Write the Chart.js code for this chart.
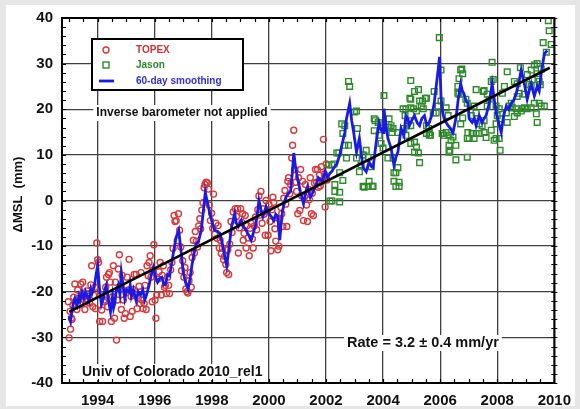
<!DOCTYPE html>
<html>
<head>
<meta charset="utf-8">
<script src="https://cdn.jsdelivr.net/npm/chart.js@4.4.1/dist/chart.umd.min.js"></script>
<style>
  html, body { margin: 0; padding: 0; background: #e6e6e6; }
  #wrap { width: 580px; height: 409px; }
</style>
</head>
<body>
<div id="wrap"><canvas id="slChart" width="580" height="409"></canvas></div>
<script>
/* Global mean sea level — TOPEX / Jason */

const xTickYears = [1994, 1996, 1998, 2000, 2002, 2004, 2006, 2008, 2010];

// [decimal year, mm]
const topexPoints = [
  [1992.97,-22.2],[1993.00,-30.1],[1993.03,-24.3],[1993.05,-28.2],[1993.08,-25.8],[1993.10,-26.1],[1993.13,-23.0],[1993.16,-21.2],
  [1993.20,-18.3],[1993.24,-22.0],[1993.27,-23.9],[1993.30,-19.6],[1993.34,-21.4],[1993.38,-22.8],[1993.41,-18.3],[1993.45,-20.5],
  [1993.48,-17.9],[1993.52,-21.0],[1993.55,-23.9],[1993.59,-22.2],[1993.62,-19.8],[1993.65,-21.6],[1993.69,-20.4],[1993.72,-22.5],
  [1993.76,-18.5],[1993.79,-14.3],[1993.83,-23.3],[1993.86,-20.8],[1993.90,-19.0],[1993.93,-23.7],[1993.97,-9.3],[1994.00,-13.0],
  [1994.03,-13.6],[1994.07,-26.5],[1994.10,-20.6],[1994.14,-24.0],[1994.17,-26.5],[1994.21,-22.2],[1994.24,-21.8],[1994.28,-19.0],
  [1994.31,-16.8],[1994.35,-23.3],[1994.38,-16.2],[1994.41,-15.8],[1994.44,-17.9],[1994.48,-26.5],[1994.52,-21.1],[1994.55,-14.3],
  [1994.59,-25.8],[1994.62,-17.9],[1994.66,-30.6],[1994.69,-21.8],[1994.72,-15.0],[1994.76,-11.9],[1994.79,-19.5],[1994.83,-23.9],
  [1994.86,-16.4],[1994.90,-21.8],[1994.93,-25.8],[1994.97,-24.8],[1995.00,-20.2],[1995.03,-16.8],[1995.07,-19.6],[1995.10,-12.9],
  [1995.14,-25.4],[1995.17,-21.0],[1995.21,-24.3],[1995.24,-19.5],[1995.28,-16.2],[1995.31,-20.6],[1995.35,-16.2],[1995.38,-23.7],
  [1995.42,-21.5],[1995.45,-18.8],[1995.49,-22.6],[1995.52,-15.8],[1995.55,-21.8],[1995.59,-23.7],[1995.63,-22.6],[1995.66,-18.6],
  [1995.70,-23.9],[1995.73,-14.3],[1995.77,-16.5],[1995.80,-13.6],[1995.84,-12.1],[1995.87,-16.8],[1995.91,-22.2],[1995.94,-15.2],
  [1995.97,-9.7],[1996.01,-21.8],[1996.04,-25.8],[1996.07,-20.7],[1996.12,-17.2],[1996.15,-15.6],[1996.19,-13.6],[1996.23,-20.7],
  [1996.26,-16.4],[1996.30,-14.3],[1996.34,-19.0],[1996.37,-18.6],[1996.41,-20.4],[1996.45,-16.8],[1996.49,-18.6],[1996.52,-20.4],
  [1996.56,-15.2],[1996.60,-13.6],[1996.64,-10.5],[1996.68,-3.3],[1996.71,-4.6],[1996.75,-4.4],[1996.79,-8.8],[1996.83,-2.9],
  [1996.87,-6.5],[1996.91,-10.2],[1996.94,-15.4],[1996.98,-13.2],[1997.02,-16.8],[1997.06,-14.7],[1997.09,-19.4],[1997.13,-20.0],
  [1997.16,-20.3],[1997.20,-17.6],[1997.24,-15.8],[1997.28,-19.0],[1997.31,-12.5],[1997.35,-8.7],[1997.39,-11.5],[1997.42,-6.8],
  [1997.46,-8.9],[1997.50,-10.2],[1997.54,-5.6],[1997.58,-4.0],[1997.61,-6.2],[1997.65,-2.1],[1997.69,-0.5],[1997.73,2.8],
  [1997.76,3.5],[1997.80,4.0],[1997.84,3.9],[1997.88,2.5],[1997.91,-1.0],[1997.95,-4.4],[1997.99,-2.8],[1998.03,-6.1],
  [1998.06,1.4],[1998.10,-7.4],[1998.14,-5.0],[1998.18,-8.3],[1998.22,-5.5],[1998.26,-10.4],[1998.29,-8.7],[1998.33,-11.6],
  [1998.37,-10.4],[1998.41,-13.0],[1998.45,-12.2],[1998.49,-14.0],[1998.52,-15.8],[1998.56,-10.8],[1998.59,-16.2],[1998.63,-9.6],
  [1998.67,-4.6],[1998.71,-7.0],[1998.75,-2.5],[1998.78,-5.5],[1998.82,-1.8],[1998.86,-3.5],[1998.90,-1.8],[1998.93,-11.5],
  [1998.97,-6.0],[1999.01,-1.8],[1999.05,-4.8],[1999.08,-2.9],[1999.10,-8.7],[1999.13,-7.2],[1999.17,-3.3],[1999.20,-10.4],
  [1999.24,-5.5],[1999.27,-8.2],[1999.31,-12.1],[1999.34,-6.1],[1999.38,-5.0],[1999.42,-8.4],[1999.45,-10.4],[1999.49,-5.6],
  [1999.53,-3.6],[1999.57,-6.4],[1999.61,-2.0],[1999.65,1.0],[1999.69,-3.2],[1999.72,2.0],[1999.76,-5.0],[1999.79,-1.8],
  [1999.83,-3.0],[1999.87,-7.6],[1999.90,0.0],[1999.94,-2.5],[1999.97,-7.6],[2000.00,-0.8],[2000.04,-4.6],[2000.07,-11.0],
  [2000.11,-2.0],[2000.14,0.7],[2000.17,-0.4],[2000.21,-6.2],[2000.24,-8.9],[2000.28,-3.8],[2000.31,-10.8],[2000.35,-10.0],
  [2000.38,-4.0],[2000.42,-1.5],[2000.45,-2.9],[2000.49,-5.7],[2000.52,0.5],[2000.56,2.2],[2000.59,-0.8],[2000.63,-5.7],
  [2000.66,4.2],[2000.69,5.0],[2000.73,1.5],[2000.76,3.5],[2000.80,9.3],[2000.83,12.1],[2000.87,15.4],[2000.90,6.8],
  [2000.94,4.0],[2000.97,2.0],[2001.01,-2.9],[2001.04,5.0],[2001.08,-2.2],[2001.11,6.8],[2001.15,1.0],[2001.18,4.2],
  [2001.21,-4.4],[2001.25,0.8],[2001.28,3.5],[2001.32,-1.0],[2001.35,-4.6],[2001.39,2.4],[2001.42,0.2],[2001.45,5.0],
  [2001.49,-2.9],[2001.52,1.6],[2001.56,-3.3],[2001.60,3.8],[2001.63,6.8],[2001.67,4.0],[2001.70,6.8],[2001.73,2.9],
  [2001.77,5.6],[2001.80,3.2],[2001.84,7.4],[2001.87,4.2],[2001.91,13.4],[2001.94,5.8],[2001.97,-1.4],[2002.01,8.0],
  [2002.04,4.5]
];

const jasonPoints = [
  [2002.10,7.8],[2002.14,-0.1],[2002.21,7.8],[2002.21,-0.1],[2002.28,8.0],[2002.31,3.5],[2002.31,2.0],[2002.38,10.4],
  [2002.45,10.4],[2002.48,6.1],[2002.48,1.8],[2002.48,-0.3],[2002.55,16.8],[2002.59,14.7],[2002.59,4.4],[2002.66,16.4],
  [2002.66,12.1],[2002.72,9.3],[2002.79,26.1],[2002.83,25.0],[2002.79,12.1],[2003.00,19.4],[2003.07,19.6],[2003.07,9.3],
  [2003.10,15.8],[2003.17,6.3],[2003.23,7.8],[2003.30,10.0],[2003.30,3.1],[2003.34,2.9],[2003.41,11.0],[2003.48,9.5],
  [2003.48,3.1],[2003.51,4.2],[2003.58,7.4],[2003.62,3.1],[2003.65,3.1],[2003.69,17.9],[2003.69,15.3],[2003.72,17.5],
  [2003.83,17.1],[2003.86,14.3],[2003.93,12.5],[2004.00,11.5],[2004.03,23.0],[2004.17,9.3],[2004.21,17.9],[2004.21,16.0],
  [2004.28,16.4],[2004.31,14.9],[2004.35,15.8],[2004.35,9.3],[2004.38,6.1],[2004.38,4.2],[2004.45,6.1],[2004.45,3.1],
  [2004.52,14.9],[2004.52,7.2],[2004.56,4.0],[2004.56,3.1],[2004.70,20.1],[2004.73,15.8],[2004.77,18.6],[2004.80,20.1],
  [2004.80,14.3],[2004.90,17.5],[2004.94,22.4],[2004.97,26.3],[2004.97,22.2],[2004.97,20.3],[2004.97,16.4],[2004.97,12.5],
  [2005.07,20.1],[2005.10,23.9],[2005.10,12.8],[2005.10,10.6],[2005.17,19.6],[2005.17,11.7],[2005.24,24.3],[2005.24,10.4],
  [2005.28,21.8],[2005.28,8.3],[2005.34,20.7],[2005.38,21.8],[2005.41,20.1],[2005.48,22.4],[2005.52,22.4],[2005.52,16.4],
  [2005.52,14.7],[2005.59,15.8],[2005.62,14.9],[2005.62,14.3],[2005.66,14.3],[2005.76,19.2],[2005.79,23.9],[2005.86,19.2],
  [2005.93,20.7],[2005.97,35.7],[2006.03,21.8],[2006.03,28.6],[2006.07,14.7],[2006.14,14.3],[2006.21,20.3],[2006.21,14.9],
  [2006.28,18.6],[2006.31,14.3],[2006.31,12.1],[2006.34,11.0],[2006.38,13.2],[2006.31,10.6],[2006.45,13.9],[2006.55,8.9],
  [2006.55,12.1],[2006.62,25.0],[2006.62,23.5],[2006.66,26.7],[2006.66,23.3],[2006.72,28.6],[2006.76,28.8],[2006.79,27.8],
  [2006.72,16.8],[2006.79,18.1],[2006.90,22.2],[2006.97,14.9],[2006.95,21.3],[2006.95,9.5],[2006.95,13.6],[2007.02,13.6],
  [2007.09,18.6],[2007.12,14.7],[2007.19,20.7],[2007.19,13.6],[2007.26,24.3],[2007.26,19.2],[2007.26,14.7],[2007.37,14.7],
  [2007.37,16.8],[2007.47,16.4],[2007.51,23.9],[2007.54,24.1],[2007.54,17.5],[2007.54,14.9],[2007.61,13.8],[2007.65,23.3],
  [2007.65,20.7],[2007.72,22.2],[2007.79,26.1],[2007.79,15.4],[2007.82,30.3],[2007.86,26.5],[2007.89,13.2],[2007.96,20.7],
  [2007.96,16.8],[2007.96,13.6],[2008.00,18.6],[2008.07,20.1],[2008.07,13.6],[2008.10,11.0],[2008.14,17.9],[2008.18,23.5],
  [2008.25,25.0],[2008.32,19.2],[2008.35,28.2],[2008.35,17.1],[2008.42,20.7],[2008.49,21.3],[2008.53,20.3],[2008.60,26.1],
  [2008.60,18.4],[2008.67,20.1],[2008.70,25.6],[2008.70,22.8],[2008.70,19.2],[2008.77,23.5],[2008.81,29.1],[2008.84,19.6],
  [2008.88,20.1],[2008.95,23.3],[2008.95,20.3],[2009.05,27.6],[2009.05,20.1],[2009.12,25.4],[2009.19,28.6],[2009.19,25.0],
  [2009.19,20.3],[2009.23,26.5],[2009.30,29.7],[2009.30,21.3],[2009.37,19.0],[2009.40,30.0],[2009.40,27.8],[2009.40,17.1],
  [2009.47,26.1],[2009.47,21.3],[2009.51,25.4],[2009.54,28.8],[2009.54,20.7],[2009.61,34.6],[2009.65,20.7],[2009.72,32.5],
  [2009.79,39.4],[2009.82,37.2],[2009.89,34.2]
];

const smoothPoints = [
  [1993.00,-25.4],[1993.05,-26.5],[1993.10,-24.0],[1993.15,-22.5],[1993.20,-21.5],[1993.28,-23.0],[1993.34,-21.0],[1993.38,-22.0],
  [1993.45,-20.0],[1993.52,-21.5],[1993.58,-20.0],[1993.62,-20.7],[1993.70,-22.0],[1993.76,-19.5],[1993.80,-20.4],[1993.88,-19.0],
  [1993.95,-16.0],[1994.00,-14.3],[1994.06,-19.0],[1994.13,-22.8],[1994.20,-21.5],[1994.25,-19.5],[1994.30,-18.6],[1994.38,-22.0],
  [1994.45,-24.4],[1994.52,-21.0],[1994.56,-23.5],[1994.60,-22.5],[1994.66,-19.3],[1994.72,-18.5],[1994.78,-20.5],[1994.83,-15.8],
  [1994.90,-19.0],[1994.95,-21.5],[1995.02,-19.5],[1995.10,-20.0],[1995.14,-18.6],[1995.18,-21.0],[1995.25,-19.5],[1995.30,-20.8],
  [1995.35,-22.0],[1995.42,-20.0],[1995.50,-20.7],[1995.58,-19.5],[1995.65,-21.8],[1995.72,-20.5],[1995.80,-18.6],[1995.87,-16.5],
  [1995.95,-14.7],[1996.02,-16.5],[1996.10,-17.9],[1996.18,-17.0],[1996.25,-16.8],[1996.32,-18.5],[1996.38,-18.3],[1996.45,-16.2],
  [1996.52,-16.5],[1996.60,-13.5],[1996.67,-10.8],[1996.75,-8.0],[1996.84,-6.5],[1996.92,-11.0],[1997.00,-15.8],[1997.08,-18.0],
  [1997.17,-19.4],[1997.24,-17.0],[1997.30,-14.3],[1997.38,-11.5],[1997.45,-9.5],[1997.53,-9.0],[1997.63,-6.5],[1997.70,-2.5],
  [1997.77,1.8],[1997.85,-0.5],[1997.93,-2.9],[1998.02,-5.0],[1998.10,-6.5],[1998.20,-6.8],[1998.28,-7.2],[1998.37,-9.5],
  [1998.45,-12.1],[1998.52,-14.3],[1998.57,-12.0],[1998.62,-9.3],[1998.70,-5.5],[1998.80,-2.9],[1998.86,-5.0],[1998.93,-5.7],
  [1999.03,-4.4],[1999.10,-5.7],[1999.20,-6.5],[1999.28,-7.5],[1999.38,-8.7],[1999.46,-7.0],[1999.55,-5.0],[1999.65,0.0],
  [1999.72,-2.0],[1999.79,-3.5],[1999.90,-1.4],[2000.00,-2.9],[2000.08,-3.5],[2000.17,-4.4],[2000.24,-3.0],[2000.31,-3.5],
  [2000.38,-8.7],[2000.43,-5.0],[2000.48,-2.2],[2000.59,0.7],[2000.68,1.5],[2000.76,2.0],[2000.82,6.0],[2000.87,10.4],
  [2000.94,7.0],[2001.00,5.0],[2001.10,2.0],[2001.21,-0.7],[2001.28,1.5],[2001.35,2.9],[2001.45,0.7],[2001.56,2.0],
  [2001.65,3.5],[2001.73,5.0],[2001.80,4.5],[2001.87,4.2],[2001.97,6.4],[2002.05,5.0],[2002.14,6.0],[2002.21,6.4],
  [2002.28,7.2],[2002.38,8.0],[2002.48,10.0],[2002.57,12.5],[2002.66,14.9],[2002.72,18.0],[2002.79,20.1],[2002.83,21.3],
  [2002.90,17.5],[2002.97,14.9],[2003.07,10.6],[2003.17,13.6],[2003.24,10.0],[2003.30,7.2],[2003.41,6.3],[2003.51,8.5],
  [2003.58,7.5],[2003.65,7.2],[2003.76,12.8],[2003.86,17.1],[2003.93,15.5],[2004.00,14.9],[2004.03,20.1],[2004.10,16.5],
  [2004.17,13.6],[2004.28,11.5],[2004.38,7.8],[2004.45,9.5],[2004.52,10.6],[2004.63,15.8],[2004.73,14.3],[2004.80,18.6],
  [2004.87,17.9],[2004.92,16.4],[2005.00,17.5],[2005.10,18.6],[2005.20,17.0],[2005.28,16.4],[2005.36,18.0],[2005.45,18.6],
  [2005.53,16.5],[2005.62,17.1],[2005.72,19.0],[2005.79,21.3],[2005.88,26.0],[2005.93,28.6],[2005.98,31.5],[2006.03,22.8],
  [2006.08,19.5],[2006.14,17.9],[2006.22,17.0],[2006.28,16.4],[2006.36,15.8],[2006.45,14.9],[2006.55,17.9],[2006.64,22.5],
  [2006.72,25.6],[2006.78,24.0],[2006.83,23.5],[2006.90,22.0],[2006.97,21.3],[2007.02,17.9],[2007.12,17.1],[2007.20,18.0],
  [2007.26,16.4],[2007.37,18.6],[2007.47,17.1],[2007.54,18.0],[2007.61,18.6],[2007.72,21.3],[2007.82,25.6],[2007.90,22.0],
  [2007.96,19.2],[2008.05,17.0],[2008.14,14.9],[2008.22,18.5],[2008.32,20.7],[2008.40,20.0],[2008.49,21.3],[2008.58,22.0],
  [2008.67,23.5],[2008.76,26.0],[2008.84,28.6],[2008.95,25.6],[2009.05,22.2],[2009.12,24.0],[2009.19,25.6],[2009.30,22.9],
  [2009.40,25.0],[2009.47,24.0],[2009.54,27.8],[2009.65,32.1],[2009.75,32.9]
];

// linear fit, 3.2 mm/yr
const trendPoints = [[1993.00,-24.4],[2009.84,29.1]];

const FONT = "'Liberation Sans', Arial, Helvetica, sans-serif";
const toXY = pts => pts.map(p => ({ x: p[0], y: p[1] }));

function textBox(c, txt, x, y, font, align) {
  c.font = font;
  const w = c.measureText(txt).width;
  const left = align === 'center' ? x - w / 2 : x;
  c.fillStyle = '#fff';
  c.fillRect(left - 3, y - 8, w + 6, 16);
  c.fillStyle = '#111';
  c.textBaseline = 'middle';
  c.textAlign = 'left';
  c.fillText(txt, left, y);
}

const decorPlugin = {
  id: 'decor',
  beforeDraw(chart) {
    const c = chart.ctx;
    c.save();
    c.fillStyle = '#e6e6e6';
    c.fillRect(0, 0, chart.width, chart.height);
    c.fillStyle = '#fff';
    c.fillRect(6, 5, 569, 401);
    c.restore();
  },
  beforeDatasetsDraw(chart) {
    const c = chart.ctx;
    const a = chart.chartArea;
    c.save();
    // legend box
    const lx = a.left + 30, ly = a.top + 21, lw = 151, lh = 51;
    c.fillStyle = '#fff';
    c.fillRect(lx, ly, lw, lh);
    c.strokeStyle = '#000';
    c.lineWidth = 2;
    c.strokeRect(lx, ly, lw, lh);
    c.lineWidth = 1.4;
    c.strokeStyle = '#d63a3a';
    c.beginPath(); c.arc(lx + 14, ly + 11, 3, 0, Math.PI * 2); c.stroke();
    c.strokeStyle = '#2f8a2a';
    c.strokeRect(lx + 11, ly + 23, 6, 6);
    c.strokeStyle = '#1a1ae8';
    c.lineWidth = 2.8;
    c.beginPath(); c.moveTo(lx + 7, ly + 42); c.lineTo(lx + 22, ly + 42); c.stroke();
    c.font = 'bold 10px ' + FONT;
    c.textBaseline = 'middle';
    c.fillStyle = '#d23030'; c.fillText('TOPEX', lx + 44, ly + 11);
    c.fillStyle = '#2a8a2a'; c.fillText('Jason', lx + 44, ly + 26);
    c.fillStyle = '#3030d6'; c.fillText('60-day smoothing', lx + 44, ly + 42);

    textBox(c, 'Inverse barometer not applied', a.left + 120, a.top + 95, 'bold 12px ' + FONT, 'center');
    textBox(c, 'Univ of Colorado 2010_rel1', a.left + 20, a.bottom - 11, 'bold 14px ' + FONT, 'left');
    textBox(c, 'Rate = 3.2 \u00b1 0.4 mm/yr', a.left + 285, a.bottom - 40, 'bold 14.5px ' + FONT, 'left');

    // y axis title
    c.translate(18, (a.top + a.bottom) / 2 - 6);
    c.rotate(-Math.PI / 2);
    c.font = 'bold 13px ' + FONT;
    c.fillStyle = '#111';
    c.textAlign = 'center';
    c.textBaseline = 'middle';
    c.fillText('\u0394MSL  (mm)', 0, 0);
    c.restore();
  },
  afterDatasetsDraw(chart) {
    const c = chart.ctx;
    const a = chart.chartArea;
    const xs = chart.scales.x, ys = chart.scales.y;
    c.save();
    c.strokeStyle = '#000';
    c.lineWidth = 1.2;
    c.beginPath();
    for (let t = 1993; t <= 2010; t += 0.5) {
      const px = Math.round(xs.getPixelForValue(t)) + 0.5;
      c.moveTo(px, a.bottom); c.lineTo(px, a.bottom - 4);
      c.moveTo(px, a.top); c.lineTo(px, a.top + 4);
    }
    for (let v = -40; v <= 40; v += 2) {
      const py = Math.round(ys.getPixelForValue(v)) + 0.5;
      c.moveTo(a.left, py); c.lineTo(a.left + 4, py);
      c.moveTo(a.right - 3, py); c.lineTo(a.right + 3, py);
    }
    c.stroke();
    c.lineWidth = 2;
    c.strokeRect(a.left, a.top, a.right - a.left, a.bottom - a.top);
    c.restore();
  }
};

const gridStyle = { color: '#404040', lineWidth: 1.3, drawTicks: false };
const tickFont = { family: FONT, size: 15, weight: 'bold' };

new Chart(document.getElementById('slChart'), {
  type: 'scatter',
  data: {
    datasets: [
      {
        label: 'trend',
        type: 'line',
        data: toXY(trendPoints),
        borderColor: '#000',
        borderWidth: 2.6,
        pointRadius: 0,
        order: 0
      },
      {
        label: '60-day smoothing',
        type: 'line',
        data: toXY(smoothPoints),
        borderColor: '#1a1ae8',
        borderWidth: 2.8,
        pointRadius: 0,
        tension: 0,
        order: 1
      },
      {
        label: 'Jason',
        data: toXY(jasonPoints),
        pointStyle: 'rect',
        pointRadius: 4,
        borderColor: '#2f8a2a',
        borderWidth: 1.4,
        backgroundColor: 'rgba(0,0,0,0)',
        order: 2
      },
      {
        label: 'TOPEX',
        data: toXY(topexPoints),
        pointStyle: 'circle',
        pointRadius: 3,
        borderColor: '#d63a3a',
        borderWidth: 1.4,
        backgroundColor: 'rgba(0,0,0,0)',
        order: 3
      }
    ]
  },
  options: {
    responsive: false,
    animation: false,
    devicePixelRatio: 1,
    layout: { padding: { left: 0, top: 10, right: 20, bottom: 0 } },
    plugins: { legend: { display: false }, tooltip: { enabled: false } },
    scales: {
      x: {
        type: 'linear',
        min: 1992.75,
        max: 2010,
        afterFit: s => { s.height = 26; },
        afterBuildTicks: s => { s.ticks = xTickYears.map(v => ({ value: v })); },
        grid: gridStyle,
        border: { display: false },
        ticks: { color: '#111', font: tickFont, padding: 9, maxRotation: 0, autoSkip: false, callback: v => String(v) }
      },
      y: {
        min: -40,
        max: 40,
        afterFit: s => { s.width = 62; },
        grid: gridStyle,
        border: { display: false },
        ticks: { stepSize: 10, color: '#111', font: tickFont, padding: 9, callback: v => String(v) }
      }
    }
  },
  plugins: [decorPlugin]
});
</script>
</body>
</html>
